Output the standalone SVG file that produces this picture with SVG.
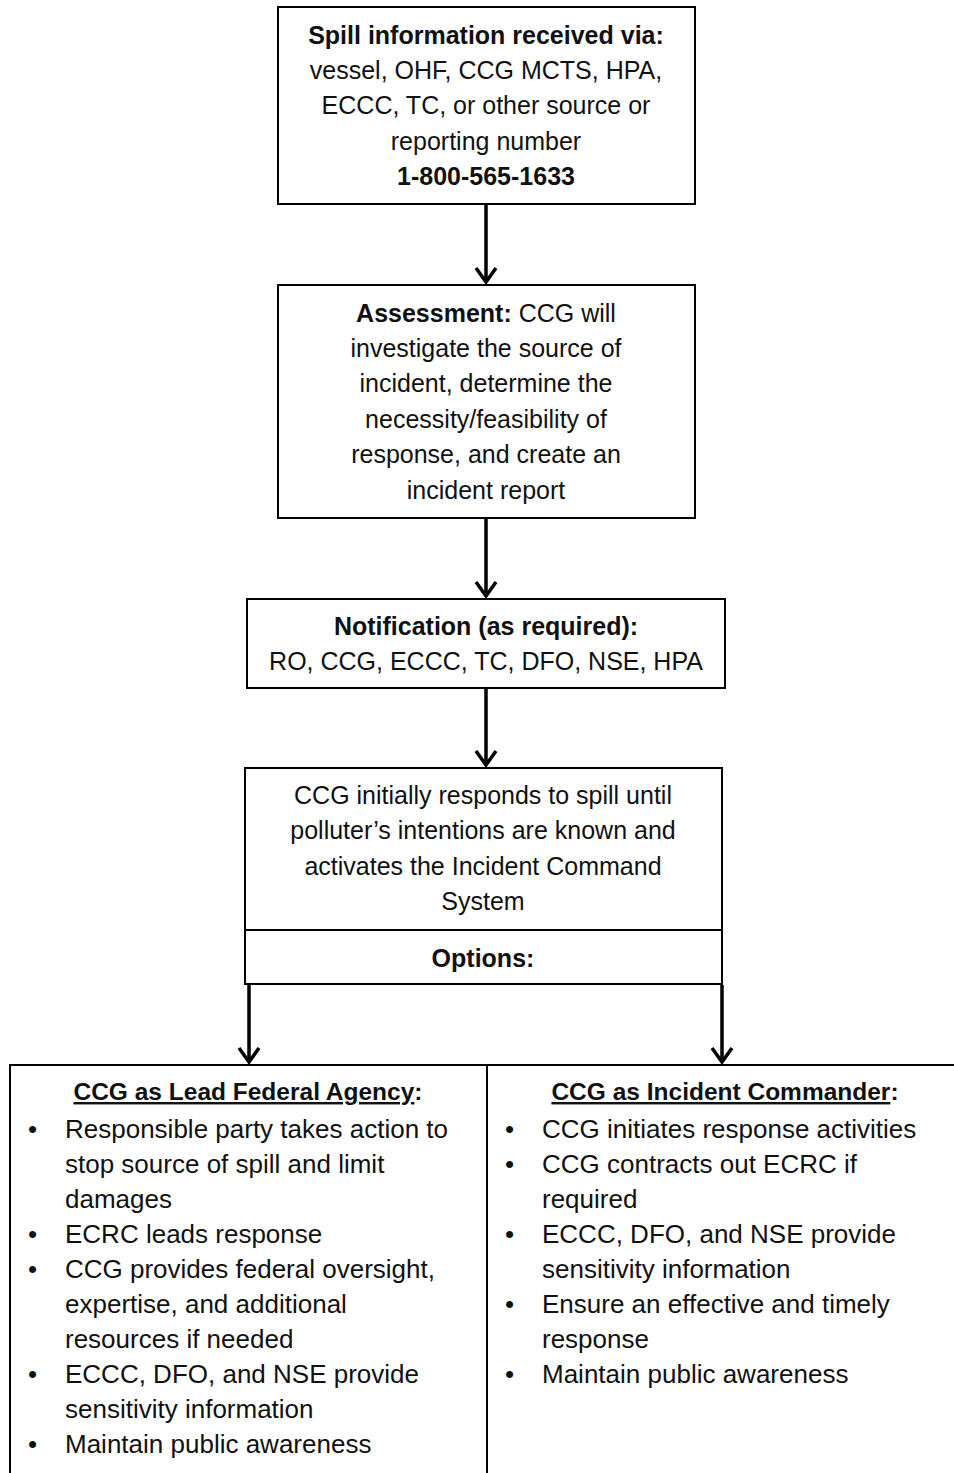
<svg xmlns="http://www.w3.org/2000/svg" width="954" height="1473" viewBox="0 0 954 1473">
<style>
text{font-family:"Liberation Sans",Arial,sans-serif;fill:#111;}
.t{font-size:25px;text-anchor:middle;}
.b{font-weight:bold;}
.c{font-size:26px;}
.h{font-size:24.5px;font-weight:bold;text-anchor:middle;}
.box{fill:#fff;stroke:#000;stroke-width:2;}
.conn{stroke:#000;stroke-width:3.5;fill:none;marker-end:url(#arr);}
.u{text-decoration:underline;}
</style>
<defs>
<marker id="arr" markerUnits="userSpaceOnUse" viewBox="-17 -13 19 26" refX="0" refY="0" markerWidth="19" markerHeight="26" orient="auto">
<path d="M-14,-10 L0,0 L-14,10" fill="none" stroke="#000" stroke-width="3.5"/>
</marker>
</defs>
<rect width="954" height="1473" fill="#fff"/>
<g id="connectors">
<line class="conn" x1="486" y1="205" x2="486" y2="282"/>
<line class="conn" x1="486" y1="519" x2="486" y2="596"/>
<line class="conn" x1="486" y1="689" x2="486" y2="765"/>
<line class="conn" x1="249" y1="985" x2="249" y2="1062"/>
<line class="conn" x1="722" y1="985" x2="722" y2="1062"/>
</g>
<g id="n1">
<rect class="box" x="278" y="7" width="417" height="197"/>
<text class="t b" x="486" y="44">Spill information received via:</text>
<text class="t" x="486" y="79">vessel, OHF, CCG MCTS, HPA,</text>
<text class="t" x="486" y="114">ECCC, TC, or other source or</text>
<text class="t" x="486" y="150">reporting number</text>
<text class="t b" x="486" y="185">1-800-565-1633</text>
</g>
<g id="n2">
<rect class="box" x="278" y="285" width="417" height="233"/>
<text class="t" x="486" y="322"><tspan class="b">Assessment:</tspan> CCG will</text>
<text class="t" x="486" y="357">investigate the source of</text>
<text class="t" x="486" y="392">incident, determine the</text>
<text class="t" x="486" y="428">necessity/feasibility of</text>
<text class="t" x="486" y="463">response, and create an</text>
<text class="t" x="486" y="499">incident report</text>
</g>
<g id="n3">
<rect class="box" x="247" y="599" width="478" height="89"/>
<text class="t b" x="486" y="635">Notification (as required):</text>
<text class="t" x="486" y="670">RO, CCG, ECCC, TC, DFO, NSE, HPA</text>
</g>
<g id="n4">
<rect class="box" x="245" y="768" width="477" height="162"/>
<text class="t" x="483" y="804">CCG initially responds to spill until</text>
<text class="t" x="483" y="839">polluter’s intentions are known and</text>
<text class="t" x="483" y="875">activates the Incident Command</text>
<text class="t" x="483" y="910">System</text>
</g>
<g id="n5">
<rect class="box" x="245" y="930" width="477" height="54"/>
<text class="t b" x="483" y="967">Options:</text>
</g>
<g id="n6">
<path d="M954,1065 H10 V1474" fill="none" stroke="#000" stroke-width="2"/>
<text class="h" x="248" y="1100"><tspan class="u">CCG as Lead Federal Agency</tspan>:</text>
<text class="c" x="28" y="1138">•</text>
<text class="c" x="65" y="1138">Responsible party takes action to</text>
<text class="c" x="65" y="1173">stop source of spill and limit</text>
<text class="c" x="65" y="1208">damages</text>
<text class="c" x="28" y="1243">•</text>
<text class="c" x="65" y="1243">ECRC leads response</text>
<text class="c" x="28" y="1278">•</text>
<text class="c" x="65" y="1278">CCG provides federal oversight,</text>
<text class="c" x="65" y="1313">expertise, and additional</text>
<text class="c" x="65" y="1348">resources if needed</text>
<text class="c" x="28" y="1383">•</text>
<text class="c" x="65" y="1383">ECCC, DFO, and NSE provide</text>
<text class="c" x="65" y="1418">sensitivity information</text>
<text class="c" x="28" y="1453">•</text>
<text class="c" x="65" y="1453">Maintain public awareness</text>
</g>
<g id="n7">
<line x1="487" y1="1065" x2="487" y2="1474" stroke="#000" stroke-width="2"/>
<text class="h" x="725" y="1100"><tspan class="u">CCG as Incident Commander</tspan>:</text>
<text class="c" x="505" y="1138">•</text>
<text class="c" x="542" y="1138">CCG initiates response activities</text>
<text class="c" x="505" y="1173">•</text>
<text class="c" x="542" y="1173">CCG contracts out ECRC if</text>
<text class="c" x="542" y="1208">required</text>
<text class="c" x="505" y="1243">•</text>
<text class="c" x="542" y="1243">ECCC, DFO, and NSE provide</text>
<text class="c" x="542" y="1278">sensitivity information</text>
<text class="c" x="505" y="1313">•</text>
<text class="c" x="542" y="1313">Ensure an effective and timely</text>
<text class="c" x="542" y="1348">response</text>
<text class="c" x="505" y="1383">•</text>
<text class="c" x="542" y="1383">Maintain public awareness</text>
</g>
</svg>
